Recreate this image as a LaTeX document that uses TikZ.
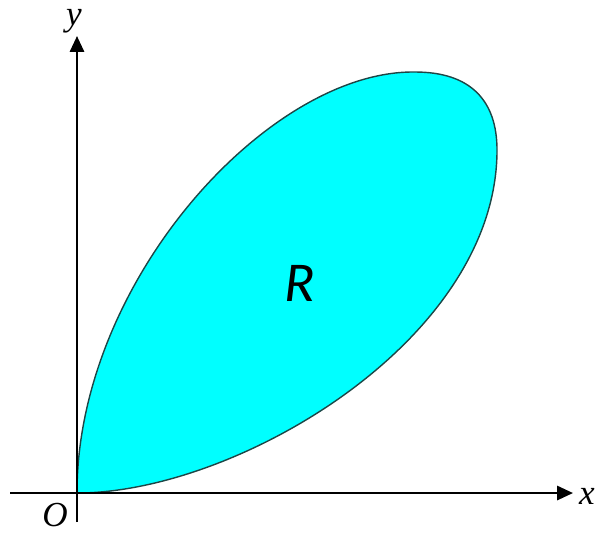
\documentclass[tikz,border=0pt]{standalone}
\usepackage{fontspec}
\setmainfont{Liberation Serif}
\newfontfamily\regionfont{Carlito}
\definecolor{regioncyan}{RGB}{0,255,255}
\definecolor{regionedge}{RGB}{30,70,70}
\usetikzlibrary{arrows.meta}

\begin{document}
\begin{tikzpicture}[
  axis/.style={black, line width=0.7pt, -{Triangle[length=4.5pt, width=4pt]}},
  axislabel/.style={font=\fontsize{10}{12}\selectfont\itshape, inner sep=0pt}]

\useasboundingbox (-0.77,-0.40) rectangle (5.19,4.93);

% Region R
\filldraw[fill=regioncyan, draw=regionedge, line width=0.4pt]
  (0,0) .. controls (0,2.13) and (1.93,4.23) .. (3.38,4.21)
  .. controls (3.93,4.21) and (4.20,3.93) .. (4.20,3.43)
  .. controls (4.20,1.53) and (1.60,0) .. (0,0) -- cycle;
\node[font=\fontsize{16}{19}\selectfont\regionfont\itshape] (r) at (2.23,2.10) {R};

% Axes
\coordinate (xstart) at (-0.67,0);
\coordinate (xend) at (4.96,0);
\coordinate (ystart) at (0,-0.29);
\coordinate (yend) at (0,4.57);
\draw[axis] (xstart) -- (xend);
\draw[axis] (ystart) -- (yend);
\node[axislabel] (xl) at (5.10,-0.03) {x};
\node[axislabel] (yl) at (-0.03,4.72) {y};
\node[axislabel] (ol) at (-0.22,-0.22) {O};

\end{tikzpicture}
\end{document}
